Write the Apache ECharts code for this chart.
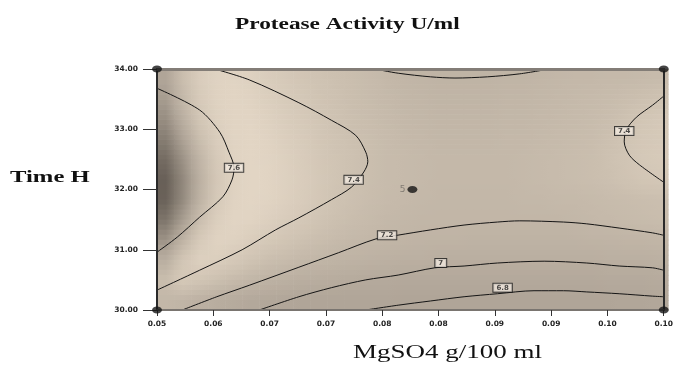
<!DOCTYPE html>
<html>
<head>
<meta charset="utf-8">
<script src="https://cdn.jsdelivr.net/npm/echarts@6/dist/echarts.min.js"></script>
<style>
  html, body { margin: 0; padding: 0; background: #fff; }
  #chart { width: 676px; height: 371px; }
</style>
</head>
<body>
<div id="chart"></div>
<script>
// axis ticks (MgSO4 g/100 ml, Time H)
const xTickValues = [0.05, 0.055556, 0.061111, 0.066667, 0.072222, 0.077778, 0.083333, 0.088889, 0.094444, 0.1];
const xTickLabels = ['0.05', '0.06', '0.07', '0.07', '0.08', '0.08', '0.09', '0.09', '0.10', '0.10'];

// contour lines, [MgSO4, Time] pairs
const contour76 = [[0.0500, 33.68], [0.0542, 33.32], [0.0562, 32.95], [0.0571, 32.62], [0.0576, 32.36], [0.0574, 32.16], [0.0565, 31.88], [0.0542, 31.54], [0.0520, 31.21], [0.0500, 30.96]];
const contour74a = [[0.0557, 34.00], [0.0591, 33.82], [0.0640, 33.44], [0.0672, 33.15], [0.0696, 32.90], [0.0706, 32.62], [0.0708, 32.46], [0.0704, 32.29], [0.0692, 32.04], [0.0672, 31.83], [0.0640, 31.53], [0.0617, 31.33], [0.0584, 31.00], [0.0542, 30.66], [0.0500, 30.33]];
const contour74b = [[0.1000, 33.55], [0.0989, 33.40], [0.0973, 33.20], [0.0963, 32.99], [0.0961, 32.79], [0.0966, 32.57], [0.0976, 32.41], [0.1000, 32.12]];
const contour72top = [[0.0715, 34.00], [0.0738, 33.93], [0.0770, 33.87], [0.0794, 33.85], [0.0826, 33.87], [0.0858, 33.92], [0.0887, 34.00]];
const contour72 = [[0.0525, 30.00], [0.0559, 30.22], [0.0591, 30.41], [0.0640, 30.71], [0.0679, 30.95], [0.0716, 31.18], [0.0737, 31.24], [0.0770, 31.33], [0.0803, 31.41], [0.0836, 31.46], [0.0858, 31.48], [0.0901, 31.46], [0.0924, 31.43], [0.0956, 31.36], [0.0989, 31.28], [0.1000, 31.24]];
const contour70 = [[0.0601, 30.00], [0.0640, 30.22], [0.0672, 30.37], [0.0706, 30.50], [0.0738, 30.58], [0.0774, 30.70], [0.0803, 30.73], [0.0836, 30.78], [0.0882, 30.81], [0.0924, 30.78], [0.0956, 30.73], [0.0989, 30.70], [0.1000, 30.66]];
const contour68 = [[0.0706, 30.00], [0.0738, 30.08], [0.0770, 30.15], [0.0803, 30.22], [0.0836, 30.27], [0.0872, 30.32], [0.0901, 30.32], [0.0924, 30.30], [0.0956, 30.27], [0.0989, 30.23], [0.1000, 30.22]];

// contour label boxes: [MgSO4, Time, text]
const contourLabels = [[0.0576, 32.36, '7.6'], [0.0694, 32.16, '7.4'], [0.0961, 32.97, '7.4'], [0.0727, 31.24, '7.2'], [0.0780, 30.78, '7'], [0.0841, 30.37, '6.8']];

// design points (corners + centre point with 5 replicates)
const designPoints = [[0.05, 34], [0.10, 34], [0.05, 30], [0.10, 30], [0.0752, 32, '5']];

// surface shading, 0 = dark, 100 = light; rows top (34 h) to bottom (30 h)
const shadeRows = [
  [50, 72, 88, 95, 96, 93, 88, 84, 80, 77, 74, 72, 70, 67, 65, 64, 63, 63, 63, 63, 64, 64, 65, 66, 67, 67, 68, 68, 69, 70],
  [44, 66, 85, 94, 97, 95, 90, 86, 82, 78, 75, 72, 70, 68, 66, 65, 64, 64, 64, 64, 65, 65, 66, 67, 68, 69, 70, 72, 74, 76],
  [35, 58, 80, 92, 97, 97, 93, 88, 84, 80, 76, 73, 71, 69, 67, 66, 65, 65, 65, 65, 66, 66, 67, 68, 69, 70, 72, 75, 80, 83],
  [25, 48, 72, 88, 96, 98, 95, 90, 86, 81, 77, 74, 72, 70, 68, 67, 66, 66, 66, 66, 67, 67, 68, 69, 70, 71, 74, 78, 82, 84],
  [15, 38, 64, 84, 95, 98, 96, 92, 87, 82, 78, 75, 72, 70, 69, 68, 67, 67, 67, 67, 67, 68, 69, 70, 71, 72, 75, 79, 83, 85],
  [8, 32, 60, 82, 94, 98, 97, 93, 88, 83, 78, 75, 72, 70, 69, 68, 67, 67, 67, 67, 67, 68, 69, 70, 71, 72, 74, 77, 80, 82],
  [9, 33, 62, 84, 95, 98, 96, 92, 87, 82, 77, 74, 71, 69, 68, 67, 66, 66, 66, 66, 66, 67, 67, 68, 68, 69, 70, 71, 72, 73],
  [20, 45, 72, 90, 97, 96, 92, 87, 83, 78, 74, 71, 69, 67, 66, 65, 65, 65, 65, 65, 65, 65, 65, 65, 66, 67, 68, 69, 70, 71],
  [38, 62, 85, 95, 94, 89, 84, 79, 75, 72, 69, 67, 66, 65, 64, 63, 63, 63, 62, 62, 62, 62, 62, 62, 62, 63, 63, 64, 64, 65],
  [58, 80, 92, 90, 84, 78, 73, 70, 67, 65, 63, 62, 61, 60, 59, 59, 58, 58, 58, 58, 58, 58, 58, 58, 58, 58, 59, 59, 59, 60],
  [72, 84, 80, 74, 69, 65, 62, 60, 58, 57, 56, 55, 54, 54, 53, 53, 53, 53, 53, 53, 53, 53, 53, 53, 53, 53, 54, 54, 54, 55],
  [66, 64, 60, 57, 55, 53, 52, 51, 50, 50, 50, 50, 50, 50, 50, 50, 50, 50, 50, 50, 50, 50, 50, 50, 50, 50, 50, 51, 51, 52]
];
const shadeColors = ['#5a524b', '#867d72', '#b0a598', '#cdc1b1', '#e4d7c6'];

const chart = echarts.init(document.getElementById('chart'), null, { renderer: 'canvas' });

const nRows = shadeRows.length;
const nCols = shadeRows[0].length;
const shadeData = [];
shadeRows.forEach((row, i) => {
  row.forEach((v, j) => shadeData.push([j, nRows - 1 - i, v]));
});
const colIdx = shadeRows[0].map((_, j) => j);
const rowIdx = shadeRows.map((_, i) => i);

function shadeColor(v) {
  return echarts.color.lerp(Math.max(0, Math.min(1, v / 100)), shadeColors);
}

// cell colour for row i, column j, faded toward row i2 by weight w
function blended(i, i2, w, j) {
  const a = shadeRows[i][j];
  if (i2 < 0 || i2 >= nRows) return a;
  return a * (1 - w) + shadeRows[i2][j] * w;
}

// each cell is drawn as a few strips that fade into the neighbouring cells,
// so the sampled shading doesn't look blocky
const strips = [-0.375, -0.125, 0.125, 0.375];
function renderShadeCell(params, api) {
  const j = api.value(0);
  const r = api.value(1);
  const i = nRows - 1 - r;
  const c = api.coord([j, r]);
  const s = api.size([1, 1]);
  const children = strips.map(f => {
    const i2 = f < 0 ? i - 1 : i + 1;
    const w = Math.abs(f);
    const v = blended(i, i2, w, j);
    const vl = j > 0 ? (blended(i, i2, w, j - 1) + v) / 2 : v;
    const vr = j < nCols - 1 ? (blended(i, i2, w, j + 1) + v) / 2 : v;
    return {
      type: 'rect',
      shape: { x: c[0] - s[0] / 2, y: c[1] + (f - 0.125) * s[1], width: s[0] + 0.6, height: s[1] / 4 + 0.6 },
      style: {
        fill: new echarts.graphic.LinearGradient(0, 0, 1, 0, [
          { offset: 0, color: shadeColor(vl) },
          { offset: 0.5, color: shadeColor(v) },
          { offset: 1, color: shadeColor(vr) }
        ])
      }
    };
  });
  return { type: 'group', children: children };
}

const plotBox = { left: 157, top: 69, width: 511, height: 241 };
const serif = "'Liberation Serif', 'DejaVu Serif', serif";

function contourLine(name, data) {
  return {
    name: name,
    type: 'line',
    xAxisIndex: 0,
    yAxisIndex: 0,
    data: data,
    smooth: 0.3,
    symbol: 'none',
    lineStyle: { color: '#151515', width: 1 },
    z: 3,
    silent: true
  };
}

const option = {
  animation: false,
  backgroundColor: '#fff',
  // the source image is stretched sideways, so the captions are widened with scaleX
  graphic: [
    { type: 'text', x: 235, y: 16, scaleX: 1.37, style: { text: 'Protease Activity U/ml', font: 'bold 17px ' + serif, fill: '#111' } },
    { type: 'text', x: 10, y: 169, scaleX: 1.45, style: { text: 'Time H', font: 'bold 17px ' + serif, fill: '#111' } },
    { type: 'text', x: 353, y: 344, scaleX: 1.5, style: { text: 'MgSO4 g/100 ml', font: '18px ' + serif, fill: '#111' } }
  ],
  grid: [
    Object.assign({ show: false }, plotBox),
    Object.assign({ show: false }, plotBox)
  ],
  xAxis: [
    {
      type: 'value', gridIndex: 0, min: 0.05, max: 0.10, z: 10,
      splitLine: { show: false },
      axisLine: { lineStyle: { color: '#7a7570', width: 2 } },
      axisTick: { customValues: xTickValues, length: 6, lineStyle: { color: '#333', width: 1 } },
      axisLabel: {
        customValues: xTickValues,
        margin: 10,
        fontFamily: 'DejaVu Sans', fontSize: 7.5, fontWeight: 'bold', color: '#222',
        formatter: function (v) {
          let best = 0;
          xTickValues.forEach((t, k) => { if (Math.abs(t - v) < Math.abs(xTickValues[best] - v)) best = k; });
          return xTickLabels[best];
        }
      }
    },
    {
      type: 'value', gridIndex: 0, min: 0.05, max: 0.10, position: 'top', z: 10,
      splitLine: { show: false }, axisTick: { show: false }, axisLabel: { show: false },
      axisLine: { lineStyle: { color: '#837d77', width: 3 } }
    },
    { type: 'category', gridIndex: 1, data: colIdx, show: false }
  ],
  yAxis: [
    {
      type: 'value', gridIndex: 0, min: 30, max: 34, interval: 1, z: 10,
      splitLine: { show: false },
      axisLine: { lineStyle: { color: '#2a2a2a', width: 2 } },
      axisTick: { length: 14, lineStyle: { color: '#333', width: 1 } },
      axisLabel: {
        margin: 19,
        fontFamily: 'DejaVu Sans', fontSize: 7.5, fontWeight: 'bold', color: '#222',
        formatter: v => v.toFixed(2)
      }
    },
    {
      type: 'value', gridIndex: 0, min: 30, max: 34, position: 'right', z: 10,
      splitLine: { show: false }, axisTick: { show: false }, axisLabel: { show: false },
      axisLine: { lineStyle: { color: '#2a2a2a', width: 2 } }
    },
    { type: 'category', gridIndex: 1, data: rowIdx, show: false }
  ],
  series: [
    {
      name: 'shade',
      type: 'custom',
      xAxisIndex: 2,
      yAxisIndex: 2,
      data: shadeData,
      renderItem: renderShadeCell,
      silent: true,
      z: 1
    },
    contourLine('7.6', contour76),
    contourLine('7.4a', contour74a),
    contourLine('7.4b', contour74b),
    contourLine('7.2top', contour72top),
    contourLine('7.2', contour72),
    contourLine('7.0', contour70),
    contourLine('6.8', contour68),
    {
      name: 'contour labels',
      type: 'scatter',
      xAxisIndex: 0,
      yAxisIndex: 0,
      data: contourLabels,
      symbolSize: 0,
      z: 5,
      silent: true,
      label: {
        show: true,
        position: 'inside',
        formatter: p => p.value[2],
        fontFamily: 'DejaVu Sans',
        fontSize: 7,
        fontWeight: 'bold',
        color: '#222',
        backgroundColor: '#f1e9de',
        borderColor: '#1a1a1a',
        borderWidth: 1,
        padding: [1, 3, 0, 3]
      }
    },
    {
      name: 'design points',
      type: 'scatter',
      xAxisIndex: 0,
      yAxisIndex: 0,
      data: designPoints,
      symbol: 'circle',
      symbolSize: [10, 7],
      clip: false,
      itemStyle: { color: '#151515' },
      z: 12,
      silent: true,
      label: {
        show: true,
        position: 'left',
        distance: 2,
        formatter: p => p.value[2] || '',
        fontFamily: 'DejaVu Sans',
        fontSize: 9,
        color: '#6f6a64'
      }
    }
  ]
};

chart.setOption(option);
</script>
</body>
</html>
